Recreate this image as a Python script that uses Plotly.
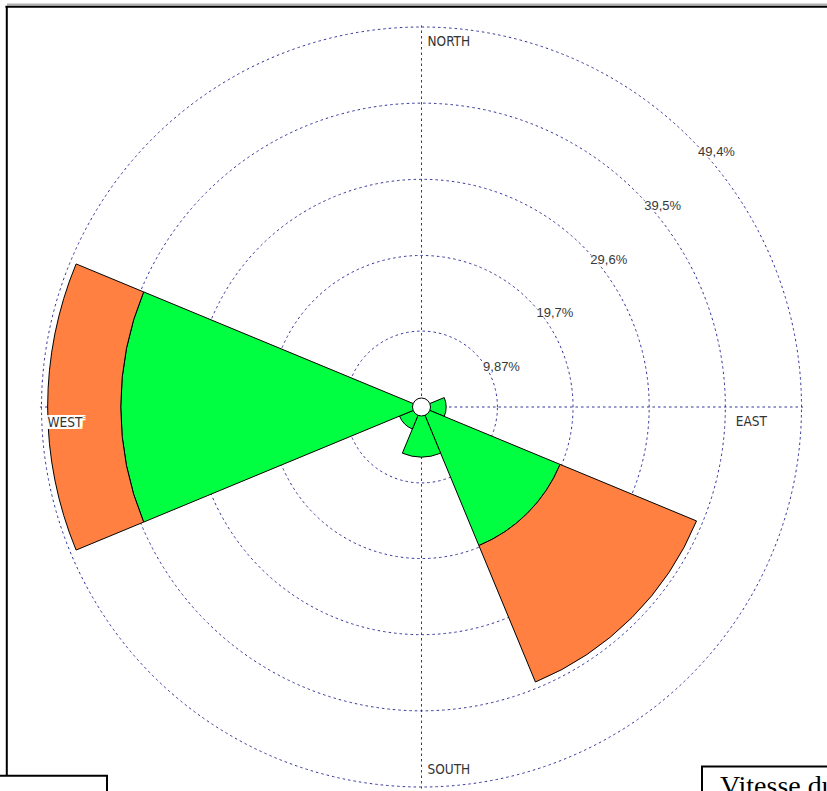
import plotly.graph_objects as go

# ---- data ----
directions = [0, 45, 90, 135, 180, 225, 270, 315]   # N, NE, E, SE, S, SW, W, NW
green_vals = [None, None, 3.2, 19.5, 6.5, 3.1, 39.1, None]
orange_vals = [None, None, None, 19.2, None, None, 9.5, None]
ring_vals = [9.87, 19.7, 29.6, 39.5, 49.4]
ring_text = ["9,87%", "19,7%", "29,6%", "39,5%", "49,4%"]
dir_names = ["NORTH", "EAST", "SOUTH", "WEST"]
dir_theta = [0, 90, 180, 270]
label_theta = [0, 90, 180, 269.4]
label_r = [47.4, 46.1, 47.3, 49.4]
label_pos = ["middle right", "bottom left", "middle right", "bottom right"]
label_msize = [8, 13, 8, 8]

W, H = 827, 791
cx, cy, R = 421.5, 407.0, 380.0
RMAX = 49.6
Rdom = R * RMAX / ring_vals[-1]

def fx(x):
    return x / W

def fy(y):
    return 1 - y / H

GRID = "#34349a"
fig = go.Figure()

fig.add_trace(go.Barpolar(
    r=green_vals, theta=directions, width=[45] * 8,
    marker=dict(color="#00ff40", line=dict(color="black", width=1)),
    showlegend=False, hoverinfo="skip"))
fig.add_trace(go.Barpolar(
    r=orange_vals, theta=directions, width=[45] * 8,
    marker=dict(color="#ff8040", line=dict(color="black", width=1)),
    showlegend=False, hoverinfo="skip"))

# calm circle
fig.add_trace(go.Scatterpolar(
    r=[0], theta=[0], mode="markers",
    marker=dict(size=18, color="white", line=dict(color="black", width=1)),
    showlegend=False, hoverinfo="skip"))

HALO = "0 0 2px #fff, 0 0 2px #fff, 0 0 3px #fff, 0 0 3px #fff, 0 0 4px #fff"

# ring labels
fig.add_trace(go.Scatterpolar(
    r=ring_vals, theta=[45] * len(ring_vals), mode="markers+text", text=ring_text,
    textposition="bottom right", cliponaxis=False,
    marker=dict(size=11, color="rgba(0,0,0,0)"),
    textfont=dict(family="Liberation Sans, Arial, sans-serif", size=13, color="#383838",
                  shadow=HALO),
    showlegend=False, hoverinfo="skip"))

# direction labels
WEST_BOX = ", ".join(f"{dx}px {dy}px 0 #fff" for dx in (-3, -1.5, 0, 1.5, 3) for dy in (-2, 0, 2))
for name, th, rr, pos, ms in zip(dir_names, label_theta, label_r, label_pos, label_msize):
    fig.add_trace(go.Scatterpolar(
        r=[rr], theta=[th], mode="markers+text", text=[name], textposition=pos,
        cliponaxis=False,
        marker=dict(size=ms, color="rgba(0,0,0,0)"),
        textfont=dict(family="Liberation Sans Narrow, DejaVu Sans Condensed, Liberation Sans, sans-serif",
                      size=13.5, color="#333333",
                      shadow=(WEST_BOX if name == "WEST" else "none")),
        showlegend=False, hoverinfo="skip"))

fig.update_layout(
    width=W, height=H,
    margin=dict(l=0, r=0, t=0, b=0),
    paper_bgcolor="white",
    plot_bgcolor="white",
    polar=dict(
        domain=dict(x=[fx(cx - Rdom), fx(cx + Rdom)], y=[fy(cy + Rdom), fy(cy - Rdom)]),
        bgcolor="white",
        barmode="stack",
        bargap=0,
        angularaxis=dict(rotation=90, direction="clockwise",
                         tickvals=dir_theta, showticklabels=False, ticks="",
                         showline=False, showgrid=True,
                         gridcolor=GRID, gridwidth=1.4, griddash="2.5px,3px"),
        radialaxis=dict(range=[0, RMAX], tickvals=ring_vals, showticklabels=False,
                        ticks="", showline=False, showgrid=True,
                        gridcolor=GRID, gridwidth=1.4, griddash="2.5px,3px"),
    ),
    shapes=[
        dict(type="line", xref="paper", yref="paper", x0=fx(7), x1=fx(830), y0=fy(4.5), y1=fy(4.5),
             line=dict(color="#b0b0b0", width=2)),
        dict(type="line", xref="paper", yref="paper", x0=fx(5.5), x1=fx(830), y0=fy(6.8), y1=fy(6.8),
             line=dict(color="black", width=2)),
        dict(type="line", xref="paper", yref="paper", x0=fx(6.8), x1=fx(6.8), y0=fy(6), y1=fy(776),
             line=dict(color="black", width=2)),
        dict(type="rect", xref="paper", yref="paper", x0=fx(-5), x1=fx(107), y0=fy(775.7), y1=fy(800),
             line=dict(color="black", width=2), fillcolor="white"),
        dict(type="rect", xref="paper", yref="paper", x0=fx(702), x1=fx(840), y0=fy(766.5), y1=fy(800),
             line=dict(color="black", width=2), fillcolor="white"),
    ],
    annotations=[
        dict(text="Vitesse du vent", xref="paper", yref="paper", x=fx(718), y=fy(768),
             xanchor="left", yanchor="top", showarrow=False,
             font=dict(family="Liberation Serif, Times New Roman, serif", size=28, color="black")),
    ],
)

fig.write_html("out.html")
